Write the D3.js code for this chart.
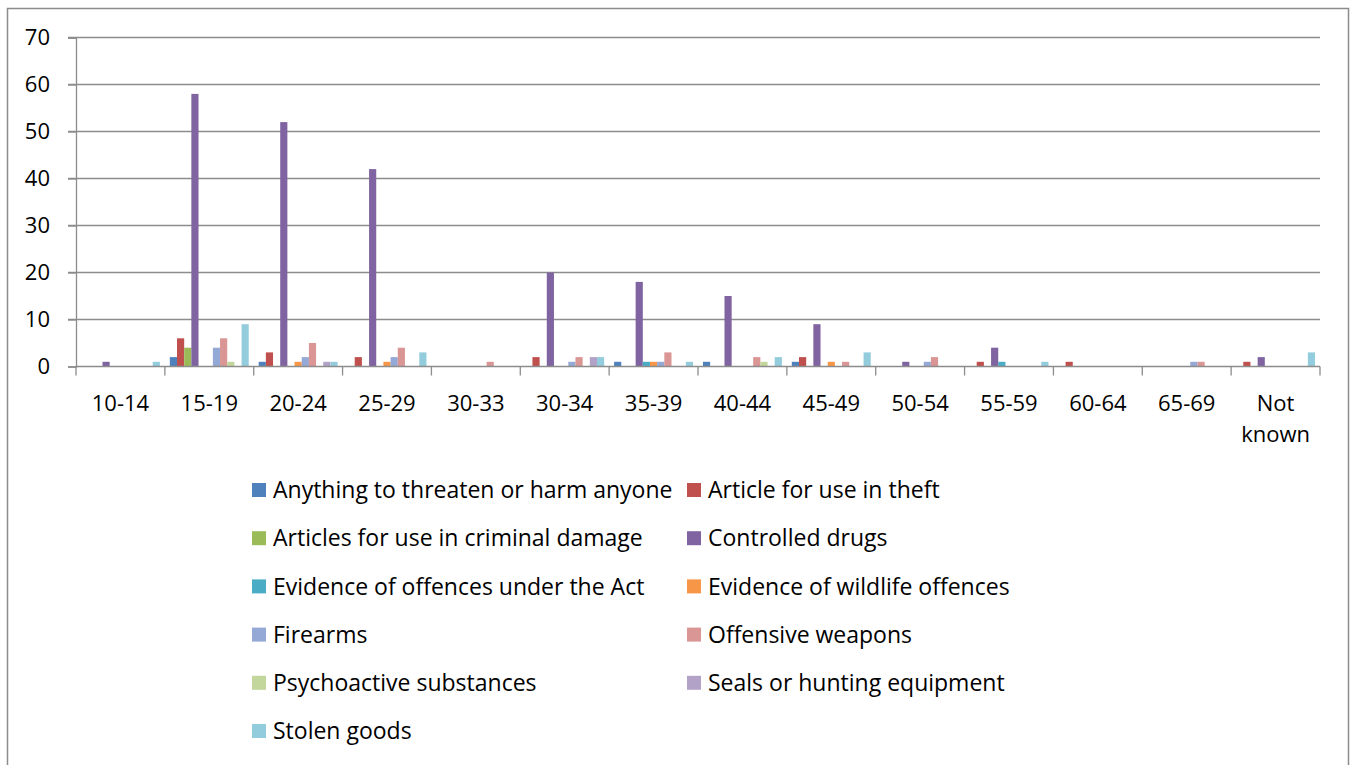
<!DOCTYPE html>
<html>
<head>
<meta charset="utf-8">
<script src="https://cdn.jsdelivr.net/npm/d3@7"></script>
<style>
  body { margin: 0; background: #fff; }
  text { font-family: "Open Sans", sans-serif; fill: #000; }
</style>
</head>
<body>
<div id="chart"></div>
<script>
// categories (age groups) and series
var categories = ["10-14", "15-19", "20-24", "25-29", "30-33", "30-34", "35-39",
                  "40-44", "45-49", "50-54", "55-59", "60-64", "65-69", "Not known"];

var seriesNames = ["Anything to threaten or harm anyone", "Article for use in theft",
  "Articles for use in criminal damage", "Controlled drugs",
  "Evidence of offences under the Act", "Evidence of wildlife offences",
  "Firearms", "Offensive weapons", "Psychoactive substances",
  "Seals or hunting equipment", "Stolen goods"];

var colors = ["#4F81BD", "#C0504D", "#9BBB59", "#8064A2", "#4BACC6", "#F79646",
              "#95A9D6", "#D99694", "#C3D69B", "#B3A2C7", "#93CDDD"];

var threaten      = [0, 2, 1, 0, 0, 0, 1, 1, 1, 0, 0, 0, 0, 0];
var theft         = [0, 6, 3, 2, 0, 2, 0, 0, 2, 0, 1, 1, 0, 1];
var criminalDmg   = [0, 4, 0, 0, 0, 0, 0, 0, 0, 0, 0, 0, 0, 0];
var drugs         = [1, 58, 52, 42, 0, 20, 18, 15, 9, 1, 4, 0, 0, 2];
var evidenceAct   = [0, 0, 0, 0, 0, 0, 1, 0, 0, 0, 1, 0, 0, 0];
var wildlife      = [0, 0, 1, 1, 0, 0, 1, 0, 1, 0, 0, 0, 0, 0];
var firearms      = [0, 4, 2, 2, 0, 1, 1, 0, 0, 1, 0, 0, 1, 0];
var offensive     = [0, 6, 5, 4, 1, 2, 3, 2, 1, 2, 0, 0, 1, 0];
var psychoactive  = [0, 1, 0, 0, 0, 0, 0, 1, 0, 0, 0, 0, 0, 0];
var seals         = [0, 0, 1, 0, 0, 2, 0, 0, 0, 0, 0, 0, 0, 0];
var stolen        = [1, 9, 1, 3, 0, 2, 1, 2, 3, 0, 1, 0, 0, 3];

var yTicks = [0, 10, 20, 30, 40, 50, 60, 70];

var seriesValues = [threaten, theft, criminalDmg, drugs, evidenceAct, wildlife,
                    firearms, offensive, psychoactive, seals, stolen];

var width = 1357, height = 765;
var svg = d3.select("#chart").append("svg")
  .attr("width", width).attr("height", height);

svg.append("rect").attr("width", width).attr("height", height).attr("fill", "#fff");

// outer chart border
svg.append("rect")
  .attr("x", 7.5).attr("y", 8.5)
  .attr("width", 1341).attr("height", 800)
  .attr("fill", "none").attr("stroke", "#8c8c8c").attr("stroke-width", 1.5);

var x0 = d3.scaleBand().domain(categories).range([76, 1320]);
var bw = x0.bandwidth();
var x1 = d3.scaleBand().domain(d3.range(seriesNames.length))
  .range([bw * 0.056, bw * 0.944]);
var y = d3.scaleLinear().domain([0, 70]).range([366.5, 37.5]);

// gridlines
svg.append("g").selectAll("line")
  .data(yTicks.slice(1))
  .enter().append("line")
  .attr("x1", 68).attr("x2", 1320)
  .attr("y1", function(d) { return y(d); })
  .attr("y2", function(d) { return y(d); })
  .attr("stroke", "#8c8c8c").attr("stroke-width", 1.3);

// y axis
var yAxis = svg.append("g")
  .attr("transform", "translate(76,0)")
  .call(d3.axisLeft(y).tickValues(yTicks).tickSize(8).tickPadding(18));
yAxis.select(".domain").attr("stroke", "#8c8c8c").attr("stroke-width", 1.3);
yAxis.selectAll(".tick line").attr("stroke", "#8c8c8c").attr("stroke-width", 1.3);
yAxis.selectAll(".tick text").attr("font-size", "22px")
  .style("font-family", "'Open Sans', sans-serif");

// bars
var groups = svg.append("g").selectAll("g")
  .data(categories)
  .enter().append("g")
  .attr("transform", function(d) { return "translate(" + x0(d) + ",0)"; });

groups.selectAll("rect")
  .data(function(d, ci) {
    return seriesValues.map(function(vals, si) { return { si: si, v: vals[ci] }; });
  })
  .enter().append("rect")
  .attr("x", function(d) { return x1(d.si); })
  .attr("width", x1.bandwidth())
  .attr("y", function(d) { return y(d.v); })
  .attr("height", function(d) { return y(0) - y(d.v); })
  .attr("fill", function(d) { return colors[d.si]; });

// x axis line and boundary ticks
svg.append("line")
  .attr("x1", 76).attr("x2", 1320).attr("y1", y(0)).attr("y2", y(0))
  .attr("stroke", "#8c8c8c").attr("stroke-width", 1.3);
svg.append("g").selectAll("line")
  .data(categories.concat([null]))
  .enter().append("line")
  .attr("x1", function(d, i) { return 76 + i * bw; })
  .attr("x2", function(d, i) { return 76 + i * bw; })
  .attr("y1", y(0)).attr("y2", y(0) + 9)
  .attr("stroke", "#8c8c8c").attr("stroke-width", 1.3);

// x labels (wrap "Not known")
svg.append("g").selectAll("text")
  .data(categories)
  .enter().append("text")
  .attr("text-anchor", "middle")
  .attr("font-size", "22px")
  .attr("x", function(d) { return x0(d) + bw / 2; })
  .attr("y", 411)
  .each(function(d) {
    var words = d.split(" ");
    var t = d3.select(this);
    words.forEach(function(w, i) {
      t.append("tspan")
        .attr("x", x0(d) + bw / 2)
        .attr("dy", i === 0 ? 0 : 31)
        .text(w);
    });
  });

// legend, two columns
var legend = svg.append("g").selectAll("g")
  .data(seriesNames)
  .enter().append("g")
  .attr("transform", function(d, i) {
    var col = i % 2, row = Math.floor(i / 2);
    return "translate(" + (col === 0 ? 252 : 687) + "," + (490 + row * 48.2) + ")";
  });
legend.append("rect")
  .attr("x", 0).attr("y", -7).attr("width", 14).attr("height", 14)
  .attr("fill", function(d, i) { return colors[i]; });
legend.append("text")
  .attr("x", 21).attr("y", 0).attr("dy", "0.36em")
  .attr("font-size", "23px")
  .text(function(d) { return d; });
</script>
</body>
</html>
